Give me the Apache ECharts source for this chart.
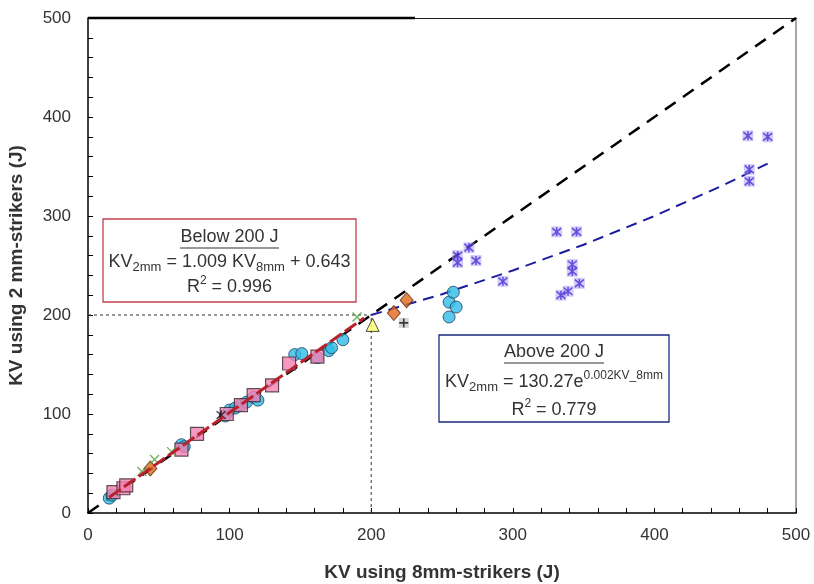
<!DOCTYPE html>
<html>
<head>
<meta charset="utf-8">
<script src="https://cdn.jsdelivr.net/npm/echarts/dist/echarts.min.js"></script>
<style>
    html, body {margin: 0; background: #fff;}
    #chart {width: 814px; height: 584px;}
</style>
</head>
<body>
<div id="chart"></div>
<script>
// data: [KV 8mm, KV 2mm]
var cyanCircles = [[15, 15], [17, 18], [66, 69], [68, 67], [97, 98], [100, 104], [104, 106], [108, 109],
    [112, 112], [117, 117], [120, 114], [146, 160], [151, 161], [162, 157], [170, 164], [172, 167],
    [180, 175], [255, 198], [255, 213], [258, 223], [260, 208]];
var pinkSquares = [[18, 21], [25, 25], [27, 28], [66, 64], [77, 80], [98, 100], [108, 109], [117, 119],
    [130, 129], [142, 151], [162, 158]];
var orangeDiamonds = [[44, 45], [216, 202], [225, 215]];
var greenCrosses = [[38, 42], [47, 54], [59, 62], [190, 198]];
var purpleStars = [[466, 381], [480, 380], [467, 347], [467, 335], [331, 284], [345, 284], [342, 251],
    [342, 244], [347, 232], [334, 220], [339, 224], [293, 234], [269, 268], [261, 260], [261, 253], [274, 255]];
var blackStars = [[94, 99]];
var yellowTriangles = [[201, 190]];
var plusMarks = [[223, 192]];

var equalityLine = [[0, 0], [500, 500]];
var below200Fit = [[15, 16], [195, 197]];
var above200Fit = [[200, 200], [250, 221], [300, 245], [350, 271], [400, 300], [450, 332], [480, 353]];
var guideH = [[0, 200], [200, 200]];
var guideV = [[200, 0], [200, 200]];

var xTicks = [0, 100, 200, 300, 400, 500];
var yTicks = [0, 100, 200, 300, 400, 500];

var FONT = '"Liberation Sans", Arial, sans-serif';
var myChart = echarts.init(document.getElementById('chart'));

function tickLabel(ticks) {
    return function (v) {
        return ticks.indexOf(v) >= 0 ? String(v) : '';
    };
}

function eqText(parts, x, y) {
    return {
        type: 'text', x: x, y: y, z: 100,
        style: {
            text: parts, align: 'center', verticalAlign: 'middle',
            rich: {
                m: {fontSize: 18, fontFamily: FONT, fill: '#333', lineHeight: 24},
                s: {fontSize: 13, fontFamily: FONT, fill: '#333', lineHeight: 13, verticalAlign: 'bottom'},
                p: {fontSize: 12, fontFamily: FONT, fill: '#333', lineHeight: 12, verticalAlign: 'top'}
            }
        }
    };
}

function plainText(t, x, y) {
    return {
        type: 'text', x: x, y: y, z: 100,
        style: {text: t, align: 'center', verticalAlign: 'middle', fontSize: 18, fontFamily: FONT, fill: '#333'}
    };
}

var asterisk = 'path://M0,0L10,10M10,0L0,10M5,-1L5,11';
var cross = 'path://M0,0L10,10M10,0L0,10';
var plus = 'path://M5,0L5,10M0,5L10,5';

var option = {
    animation: false,
    backgroundColor: '#fff',
    grid: {left: 88, right: 18, top: 18, bottom: 71, containLabel: false, outerBoundsMode: 'none'},
    xAxis: [{
        type: 'value', min: 0, max: 500, interval: 20,
        name: 'KV using 8mm-strikers (J)', nameLocation: 'middle', nameGap: 50,
        nameTextStyle: {fontSize: 19, fontWeight: 'bold', fontFamily: FONT, color: '#333'},
        axisLine: {show: true, onZero: false, lineStyle: {color: '#000', width: 1.5}},
        axisTick: {show: true, inside: true, length: 5, lineStyle: {color: '#000'}},
        axisLabel: {formatter: tickLabel(xTicks), fontSize: 17, fontFamily: FONT, color: '#333', margin: 14},
        splitLine: {show: false}
    }, {
        type: 'value', min: 0, max: 500, position: 'top',
        axisLine: {show: true, onZero: false, lineStyle: {color: '#222', width: 1}},
        axisTick: {show: false}, axisLabel: {show: false}, splitLine: {show: false}
    }],
    yAxis: [{
        type: 'value', min: 0, max: 500, interval: 20,
        name: 'KV using 2 mm-strikers (J)', nameLocation: 'middle', nameGap: 62,
        nameTextStyle: {fontSize: 19, fontWeight: 'bold', fontFamily: FONT, color: '#333'},
        axisLine: {show: true, onZero: false, lineStyle: {color: '#000', width: 1.5}},
        axisTick: {show: true, inside: true, length: 5, lineStyle: {color: '#000'}},
        axisLabel: {formatter: tickLabel(yTicks), fontSize: 17, fontFamily: FONT, color: '#333', margin: 17},
        splitLine: {show: false}
    }, {
        type: 'value', min: 0, max: 500, position: 'right',
        axisLine: {show: true, onZero: false, lineStyle: {color: '#888', width: 1.5}},
        axisTick: {show: false}, axisLabel: {show: false}, splitLine: {show: false}
    }],
    series: [
        {type: 'line', data: guideH, symbol: 'none', z: 1, lineStyle: {color: '#333', width: 1, type: [3, 3]}},
        {type: 'line', data: guideV, symbol: 'none', z: 1, lineStyle: {color: '#333', width: 1, type: [3, 3]}},
        {type: 'line', data: equalityLine, symbol: 'none', z: 1, lineStyle: {color: '#000', width: 2.5, type: [13, 9]}},
        {type: 'line', data: above200Fit, symbol: 'none', z: 1, lineStyle: {color: '#1c1c9e', width: 2, type: [11, 7]}},
        {type: 'scatter', data: purpleStars, symbol: 'rect', symbolSize: 11, z: 2,
            itemStyle: {color: 'rgba(165,150,240,0.6)'}},
        {type: 'scatter', data: purpleStars, symbol: asterisk, symbolSize: 9, z: 3,
            itemStyle: {color: 'transparent', borderColor: '#4a2fd8', borderWidth: 1.6}},
        {type: 'scatter', data: cyanCircles, symbol: 'circle', symbolSize: 12, z: 3,
            itemStyle: {color: '#2fbbe6', borderColor: '#1d3f60', borderWidth: 1}},
        {type: 'scatter', data: pinkSquares, symbol: 'rect', symbolSize: 13, z: 3,
            itemStyle: {color: '#f57fb0', borderColor: '#3a2a33', borderWidth: 1.2}},
        {type: 'scatter', data: orangeDiamonds, symbol: 'diamond', symbolSize: [13, 15], z: 3,
            itemStyle: {color: '#e2681c', borderColor: '#5a2a10', borderWidth: 1}},
        {type: 'scatter', data: greenCrosses, symbol: cross, symbolSize: 9, z: 3,
            itemStyle: {color: 'transparent', borderColor: '#4f9f3a', borderWidth: 1.4}},
        {type: 'scatter', data: blackStars, symbol: asterisk, symbolSize: 9, z: 3,
            itemStyle: {color: 'transparent', borderColor: '#111', borderWidth: 1.5}},
        {type: 'scatter', data: yellowTriangles, symbol: 'triangle', symbolSize: 13, z: 3,
            itemStyle: {color: '#ffff70', borderColor: '#222', borderWidth: 1}},
        {type: 'scatter', data: plusMarks, symbol: 'rect', symbolSize: 10, z: 3,
            itemStyle: {color: 'rgba(150,150,150,0.5)'}},
        {type: 'scatter', data: plusMarks, symbol: plus, symbolSize: 9, z: 4,
            itemStyle: {color: 'transparent', borderColor: '#111', borderWidth: 1.6}},
        {type: 'line', data: below200Fit, symbol: 'none', z: 5, lineStyle: {color: '#b8202c', width: 3, type: [14, 4]}}
    ],
    graphic: [
        {type: 'line', z: 50, shape: {x1: 88, y1: 18, x2: 415, y2: 18}, style: {stroke: '#000', lineWidth: 2.5}},
        {type: 'rect', z: 90, shape: {x: 103, y: 219, width: 253, height: 83},
            style: {fill: '#fff', stroke: '#c24050', lineWidth: 1.3}},
        plainText('Below 200 J', 229.5, 237),
        {type: 'line', z: 100, shape: {x1: 180, y1: 248, x2: 279, y2: 248}, style: {stroke: '#333', lineWidth: 1.2}},
        eqText('{m|KV}{s|2mm}{m| = 1.009 KV}{s|8mm}{m| + 0.643}', 229.5, 262),
        eqText('{m|R}{p|2}{m| = 0.996}', 229.5, 287),
        {type: 'rect', z: 90, shape: {x: 439, y: 335, width: 230, height: 87},
            style: {fill: '#fff', stroke: '#1c2a80', lineWidth: 1.3}},
        plainText('Above 200 J', 554, 352),
        {type: 'line', z: 100, shape: {x1: 504, y1: 363, x2: 604, y2: 363}, style: {stroke: '#333', lineWidth: 1.2}},
        eqText('{m|KV}{s|2mm}{m| = 130.27e}{p|0.002KV_8mm}', 554, 382),
        eqText('{m|R}{p|2}{m| = 0.779}', 554, 410)
    ]
};

myChart.setOption(option);
</script>
</body>
</html>
